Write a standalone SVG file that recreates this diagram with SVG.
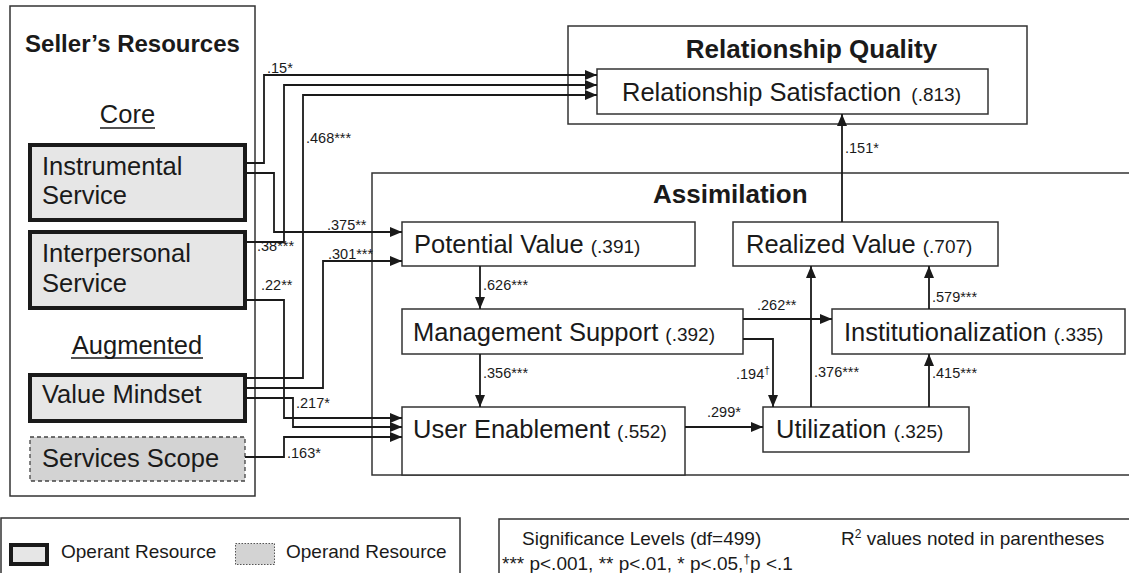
<svg xmlns="http://www.w3.org/2000/svg" width="1129" height="573" viewBox="0 0 1129 573">
<defs>
<marker id="arr" markerUnits="userSpaceOnUse" markerWidth="12" markerHeight="10" refX="12" refY="5" orient="auto">
<path d="M0,0 L12,5 L0,10 z" fill="#1a1a1a"/>
</marker>
<style>
.box{fill:#fff;stroke:#333;stroke-width:1.5}
.grp{fill:none;stroke:#333;stroke-width:1.5}
.operant{fill:#e6e6e6;stroke:#1a1a1a;stroke-width:4}
.operand{fill:#d3d3d3;stroke:#444;stroke-width:1.3;stroke-dasharray:4 3}
.t{font-family:"Liberation Sans",Arial,sans-serif;fill:#1a1a1a}
.node{font-size:25.5px}
.par{font-size:19px}
.title{font-size:26px;font-weight:bold}
.lbl{font-size:14.5px}
.leg{font-size:19px}
.conn{fill:none;stroke:#1a1a1a;stroke-width:1.8;marker-end:url(#arr)}
.ul{stroke:#1a1a1a;stroke-width:1.5}
</style>
</defs>
<rect width="1129" height="573" fill="#fff"/>

<g id="sellers-resources">
<rect class="grp" x="10" y="6" width="245" height="490"/>
<text class="t" x="132.5" y="52" font-size="24" font-weight="bold" text-anchor="middle">Seller’s Resources</text>
<text class="t node" x="127.5" y="123" text-anchor="middle">Core</text>
<line class="ul" x1="100" y1="128" x2="155" y2="128"/>
<text class="t node" x="137" y="354" text-anchor="middle">Augmented</text>
<line class="ul" x1="71" y1="358" x2="203" y2="358"/>
</g>

<g id="instrumental-service">
<rect class="operant" x="30" y="145" width="215" height="75"/>
<text class="t node" x="42" y="175">Instrumental</text>
<text class="t node" x="42" y="204">Service</text>
</g>
<g id="interpersonal-service">
<rect class="operant" x="30" y="232" width="215" height="76"/>
<text class="t node" x="42" y="262">Interpersonal</text>
<text class="t node" x="42" y="292">Service</text>
</g>
<g id="value-mindset">
<rect class="operant" x="30" y="375" width="215" height="46"/>
<text class="t node" x="42" y="403">Value Mindset</text>
</g>
<g id="services-scope">
<rect class="operand" x="30" y="437" width="215" height="44"/>
<text class="t node" x="42" y="467">Services Scope</text>
</g>

<g id="relationship-quality">
<rect class="grp" x="568" y="26" width="459" height="98"/>
<text class="t title" x="811.5" y="58" text-anchor="middle">Relationship Quality</text>
</g>
<g id="relationship-satisfaction">
<rect class="box" x="597" y="69" width="391" height="45"/>
<text class="t node" x="622" y="101">Relationship Satisfaction <tspan class="par" dx="3">(.813)</tspan></text>
</g>

<g id="assimilation">
<rect class="grp" x="372" y="173" width="770" height="302"/>
<text class="t title" x="653" y="203">Assimilation</text>
</g>
<g id="potential-value">
<rect class="box" x="402" y="222" width="293" height="44"/>
<text class="t node" x="414" y="253">Potential Value <tspan class="par">(.391)</tspan></text>
</g>
<g id="realized-value">
<rect class="box" x="733" y="222" width="265" height="44"/>
<text class="t node" x="746" y="253">Realized Value <tspan class="par">(.707)</tspan></text>
</g>
<g id="management-support">
<rect class="box" x="402" y="309" width="341" height="45"/>
<text class="t node" x="413" y="341">Management Support <tspan class="par">(.392)</tspan></text>
</g>
<g id="institutionalization">
<rect class="box" x="832" y="309" width="293" height="45"/>
<text class="t node" x="844" y="341">Institutionalization <tspan class="par">(.335)</tspan></text>
</g>
<g id="user-enablement">
<rect class="box" x="402" y="407" width="283" height="68"/>
<text class="t node" x="413" y="438">User Enablement <tspan class="par">(.552)</tspan></text>
</g>
<g id="utilization">
<rect class="box" x="763" y="407" width="206" height="45"/>
<text class="t node" x="776" y="438">Utilization <tspan class="par">(.325)</tspan></text>
</g>

<g id="connectors">
<path class="conn" d="M247,163 H264 V75 H597"/>
<path class="conn" d="M247,173 H274 V232 H402"/>
<path class="conn" d="M247,242 H284 V85 H597"/>
<path class="conn" d="M247,378 H303 V95 H597"/>
<path class="conn" d="M247,388 H323 V261 H402"/>
<path class="conn" d="M247,300 H284 V418 H402"/>
<path class="conn" d="M247,398 H293 V427 H402"/>
<path class="conn" d="M245,457 H284 V437 H402"/>
<path class="conn" d="M480,266 V309"/>
<path class="conn" d="M480,354 V407"/>
<path class="conn" d="M685,427 H763"/>
<path class="conn" d="M743,319 H832"/>
<path class="conn" d="M743,339 H773 V407"/>
<path class="conn" d="M811,407 V266"/>
<path class="conn" d="M929,309 V266"/>
<path class="conn" d="M929,407 V354"/>
<path class="conn" d="M842,222 V114"/>
<g class="t lbl">
<text x="267" y="73">.15*</text>
<text x="327" y="230">.375**</text>
<text x="257" y="251">.38***</text>
<text x="306" y="143">.468***</text>
<text x="328" y="259">.301***</text>
<text x="261" y="290">.22**</text>
<text x="296" y="408">.217*</text>
<text x="287" y="458">.163*</text>
<text x="483" y="290">.626***</text>
<text x="483" y="378">.356***</text>
<text x="707" y="417">.299*</text>
<text x="757" y="310">.262**</text>
<text x="736" y="379">.194<tspan font-size="10" dy="-5">†</tspan></text>
<text x="814" y="377">.376***</text>
<text x="932" y="302">.579***</text>
<text x="932" y="378">.415***</text>
<text x="845" y="153">.151*</text>
</g>
</g>

<g id="legend-resources">
<rect class="grp" x="1" y="518" width="459" height="80"/>
<rect class="operant" x="11" y="545" width="36" height="19"/>
<text class="t leg" x="61" y="558">Operant Resource</text>
<rect x="235.5" y="543.5" width="39" height="21" fill="#d3d3d3" stroke="#555" stroke-width="1" stroke-dasharray="1.5 1.5"/>
<text class="t leg" x="286" y="558">Operand Resource</text>
</g>
<g id="legend-significance">
<rect class="grp" x="499" y="519" width="640" height="80"/>
<text class="t leg" x="522" y="545">Significance Levels (df=499)</text>
<text class="t leg" x="841" y="545">R<tspan font-size="12" dy="-7">2</tspan><tspan dy="7"> values noted in parentheses</tspan></text>
<text class="t leg" x="502" y="570">*** p&lt;.001, ** p&lt;.01, * p&lt;.05,<tspan font-size="12" dy="-7">†</tspan><tspan dy="7">p &lt;.1</tspan></text>
</g>
</svg>
